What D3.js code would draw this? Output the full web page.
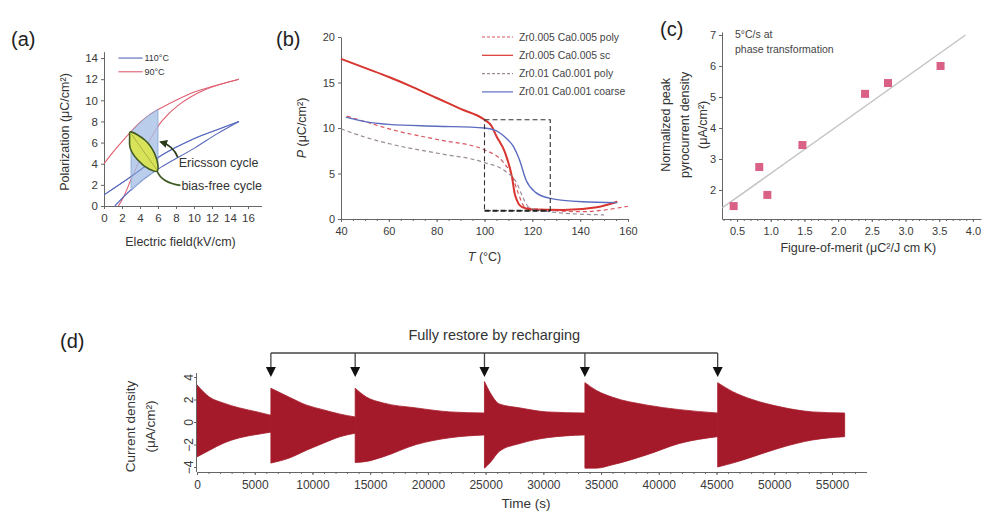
<!DOCTYPE html>
<html><head><meta charset="utf-8">
<script src="https://cdn.jsdelivr.net/npm/d3@7"></script>
<style>
body{margin:0;background:#fff;}
svg{display:block;font-family:"Liberation Sans",Arial,sans-serif;}
.ax path,.ax line{stroke:#666;stroke-width:1;}
.ax text{fill:#3a3a3a;}
</style></head><body>
<svg id="fig" width="985" height="520"></svg>
<script>
// ---------- (a) polarization loops ----------
const fieldTicks = [0,2,4,6,8,10,12,14,16];
const polTicks = [0,2,4,6,8,10,12,14];
const loop90Upper = [[0,4.0],[1,5.1],[2,6.1],[2.9,6.95],[4,7.9],[5,8.6],[6.4,9.3],[8,10.0],[10.1,10.8],[12,11.3],[15,12.0]];
const loop90Lower = [[1.6,0],[2.2,0.9],[3,2.5],[4,4.4],[5,6.1],[6.4,8.0],[8.2,9.5],[11.2,11.0],[15,12.0]];
const loop110Upper = [[0,1.05],[2.7,2.6],[6.4,4.8],[10.1,6.4],[12.5,7.2],[15,8.0]];
const loop110Lower = [[1.2,0],[2.7,1.3],[4.5,2.6],[6.4,3.7],[10.1,5.5],[12.5,6.8],[15,8.0]];
const ericssonCycle = [[3,1.45],[3,7.0],[4,7.9],[5,8.6],[6,9.15],[6,3.5],[4.5,2.6]];
const biasFreeCycle = [[2.9,7.0],[4.6,6.2],[5.6,5.0],[6.0,3.8],[5.9,3.3],[5.0,3.5],[3.7,4.4],[2.9,5.5],[2.85,6.5]];

// ---------- (b) P(T) curves ----------
const tempTicks = [40,60,80,100,120,140,160];
const pTicks = [0,5,10,15,20];
const seriesB = [
  {name:"Zr0.005 Ca0.005 poly", color:"#d9555f", dash:"4,3", pts:[[42.5,11.3],[50,10.7],[63,9.7],[81,8.7],[100,7.6],[108,6.2],[111.5,4.8],[114,2.9],[117,1.3],[126,1.0],[140,0.8],[160,1.4]]},
  {name:"Zr0.005 Ca0.005 sc", color:"#d8352f", dash:null, pts:[[40,17.6],[50,16.6],[60,15.6],[70,14.5],[80,13.3],[90,12.1],[100,10.9],[103,10.2],[105,9.1],[108.6,7.3],[111.5,4.6],[112.8,2.6],[115.7,1.3],[120,1.05],[133,1.0],[147,1.3],[155.5,1.9]]},
  {name:"Zr0.01 Ca0.001 poly", color:"#9a8c98", dash:"4,3", pts:[[40,9.9],[50,9.0],[63,8.1],[81,7.2],[100,6.2],[109,5.2],[113.6,3.9],[116,2.4],[119,1.2],[133,0.65],[150,0.45]]},
  {name:"Zr0.01 Ca0.001 coarse", color:"#5b6cc0", dash:null, pts:[[42,11.2],[50,10.7],[60,10.4],[80,10.2],[100,10.0],[104,9.8],[109,8.9],[112,8.0],[114.5,6.6],[117.5,4.2],[121.5,2.9],[127,2.3],[141,1.9],[155.5,1.8]]}
];
const transitionBox = {t0:100, t1:127.5, p0:0.9, p1:10.9};

// ---------- (c) pyrocurrent vs figure-of-merit ----------
const fomTicks = [0.5,1.0,1.5,2.0,2.5,3.0,3.5,4.0];
const pyroTicks = [2,3,4,5,6,7];
const fom = [0.45,0.83,0.95,1.47,2.40,2.74,3.52];
const pyro = [1.48,2.74,1.84,3.45,5.10,5.45,6.0];
const fitLine = [[0.28,1.42],[3.89,7.0]];

// ---------- (d) current density over time ----------
const timeTicks = [0,5000,10000,15000,20000,25000,30000,35000,40000,45000,50000,55000];
const currentTicks = [-4,-2,0,2,4];
const rechargeTimes = [6400,13700,24900,33600,45100];
// envelope of the oscillating current in each discharge run: [time, upper, lower]
const runs = [
  [[0,3.3,-3.1],[1100,2.2,-2.5],[2250,1.7,-1.9],[3700,1.25,-1.4],[5200,0.9,-1.1],[6400,0.6,-0.9]],
  [[6400,3.0,-3.65],[8000,2.2,-3.2],[9500,1.5,-2.5],[10900,1.1,-1.9],[12400,0.7,-1.3],[13700,0.45,-1.0]],
  [[13700,3.0,-3.6],[14700,2.2,-3.5],[16100,1.7,-3.1],[19000,1.25,-2.0],[21900,0.9,-1.4],[24900,0.8,-1.15]],
  [[24900,3.6,-4.1],[25400,2.6,-3.6],[26200,1.6,-2.6],[28000,1.25,-1.9],[30300,0.9,-1.4],[33600,0.8,-1.15]],
  [[33600,3.5,-4.1],[34600,2.8,-4.1],[36000,2.2,-3.8],[39000,1.5,-2.9],[41800,1.1,-1.9],[45100,0.8,-1.3]],
  [[45100,3.5,-4.0],[46400,2.7,-3.65],[48100,2.0,-3.1],[50500,1.35,-2.3],[53300,0.9,-1.6],[56100,0.8,-1.3]]
];

const svg = d3.select("#fig");
const txt = "#333";

svg.append("defs").append("marker").attr("id","arrowA").attr("viewBox","0 0 10 10")
  .attr("refX",8).attr("refY",5).attr("markerWidth",5).attr("markerHeight",5).attr("orient","auto")
  .append("path").attr("d","M0,0 L10,5 L0,10 z").attr("fill","#2a3a1a");

function panelLabel(x, y, s){
  svg.append("text").attr("x",x).attr("y",y).attr("font-size",20).attr("fill","#222").text(s);
}

// ===== Panel (a) =====
{
  const x = d3.scaleLinear([0,17.5],[104,261.5]);
  const y = d3.scaleLinear([0,14.6],[206,51.7]);
  const g = svg.append("g");
  g.append("g").attr("class","ax").attr("transform","translate(0,206)")
    .call(d3.axisBottom(x).tickValues(fieldTicks).tickSize(3).tickSizeOuter(0))
    .selectAll("text").attr("font-size",11.5).attr("dy","0.9em");
  g.append("g").attr("class","ax").attr("transform","translate(104,0)")
    .call(d3.axisLeft(y).tickValues(polTicks).tickSize(3).tickSizeOuter(0))
    .selectAll("text").attr("font-size",11.5);
  const line = d3.line().x(d=>x(d[0])).y(d=>y(d[1])).curve(d3.curveCatmullRom.alpha(0.5));
  [[loop90Upper,"#e06070"],[loop90Lower,"#e06070"],[loop110Upper,"#5668bd"],[loop110Lower,"#5668bd"]].forEach(([d,c])=>{
    g.append("path").datum(d).attr("d",line).attr("fill","none").attr("stroke",c).attr("stroke-width",1.1);
  });
  g.append("path").datum(ericssonCycle)
    .attr("d", d3.line().x(d=>x(d[0])).y(d=>y(d[1])).curve(d3.curveLinearClosed))
    .attr("fill","#a9c2e6").attr("fill-opacity",0.8).attr("stroke","#8aa6d6").attr("stroke-width",0.8);
  // blue loop stays visible across the shaded cycle
  g.append("path").datum(loop110Upper).attr("d",line).attr("fill","none").attr("stroke","#5668bd").attr("stroke-width",1).attr("stroke-opacity",0.7);
  g.append("path").datum(biasFreeCycle)
    .attr("d", d3.line().x(d=>x(d[0])).y(d=>y(d[1])).curve(d3.curveCatmullRomClosed.alpha(0.5)))
    .attr("fill","#d9e35a").attr("stroke","#3f5a22").attr("stroke-width",1.6);
  g.append("line").attr("x1",x(3.05)).attr("y1",y(6.8)).attr("x2",x(5.85)).attr("y2",y(3.45))
    .attr("stroke","#9aa83a").attr("stroke-width",0.8);
  // legend
  [["110°C","#5668bd",y(14)],["90°C","#e06070",y(12.7)]].forEach(([s,c,yy])=>{
    g.append("line").attr("x1",x(1.6)).attr("x2",x(4.3)).attr("y1",yy).attr("y2",yy).attr("stroke",c).attr("stroke-width",1.1);
    g.append("text").attr("x",x(4.5)).attr("y",yy+3).attr("font-size",9).attr("fill",txt).text(s);
  });
  // annotations
  g.append("text").attr("x",x(8.3)).attr("y",y(3.7)).attr("font-size",12.5).attr("fill",txt).text("Ericsson cycle");
  g.append("text").attr("x",x(8.6)).attr("y",y(1.55)).attr("font-size",12.5).attr("fill",txt).text("bias-free cycle");
  g.append("path")
    .attr("d",`M${x(8.2)},${y(4.6)} Q${x(7.7)},${y(5.7)} ${x(6.3)},${y(6.05)}`)
    .attr("fill","none").attr("stroke","#2a3a1a").attr("stroke-width",1.6).attr("marker-end","url(#arrowA)");
  g.append("path")
    .attr("d",`M${x(8.5)},${y(1.95)} Q${x(6.4)},${y(2.2)} ${x(5.9)},${y(3.3)}`)
    .attr("fill","none").attr("stroke","#3f5a22").attr("stroke-width",1.6);
  g.append("text").attr("transform",`translate(69,${y(7)}) rotate(-90)`).attr("text-anchor","middle")
    .attr("font-size",12.5).attr("fill",txt).text("Polarization (μC/cm²)");
  g.append("text").attr("x",x(8.5)).attr("y",246).attr("text-anchor","middle")
    .attr("font-size",12.5).attr("fill",txt).text("Electric field(kV/cm)");
  panelLabel(11,46,"(a)");
}

// ===== Panel (b) =====
{
  const x = d3.scaleLinear([40,160],[341,628]);
  const y = d3.scaleLinear([0,20],[219,37]);
  const g = svg.append("g");
  g.append("g").attr("class","ax").attr("transform","translate(0,219)")
    .call(d3.axisBottom(x).tickValues(tempTicks).tickSize(3).tickSizeOuter(0))
    .selectAll("text").attr("font-size",11).attr("dy","0.95em");
  g.append("g").attr("class","ax").attr("transform","translate(0,219)")
    .call(d3.axisBottom(x).tickValues(d3.range(45,160,5)).tickSize(2).tickFormat("").tickSizeOuter(0))
    .select("path").remove();
  g.append("g").attr("class","ax").attr("transform","translate(341,0)")
    .call(d3.axisLeft(y).tickValues(pTicks).tickSize(3).tickSizeOuter(0))
    .selectAll("text").attr("font-size",11);
  const line = d3.line().x(d=>x(d[0])).y(d=>y(d[1])).curve(d3.curveMonotoneX);
  seriesB.forEach(s=>{
    g.append("path").datum(s.pts).attr("d",line).attr("fill","none").attr("stroke",s.color)
      .attr("stroke-width", s.dash ? 1.2 : (s.color==="#d8352f"?2:1.4))
      .attr("stroke-dasharray", s.dash);
  });
  const b = transitionBox;
  g.append("rect").attr("x",x(b.t0)).attr("y",y(b.p1)).attr("width",x(b.t1)-x(b.t0)).attr("height",y(b.p0)-y(b.p1))
    .attr("fill","none").attr("stroke","#333").attr("stroke-width",1.1).attr("stroke-dasharray","5,3");
  g.append("line").attr("x1",x(b.t0)).attr("x2",x(b.t1)).attr("y1",y(b.p0)).attr("y2",y(b.p0))
    .attr("stroke","#222").attr("stroke-width",2).attr("stroke-dasharray","5,3");
  // legend
  seriesB.forEach((s,i)=>{
    const yy = 37 + i*18.3;
    g.append("line").attr("x1",482).attr("x2",513).attr("y1",yy).attr("y2",yy).attr("stroke",s.color)
      .attr("stroke-width",1.2).attr("stroke-dasharray", s.dash ? "3,2" : null);
    g.append("text").attr("x",519).attr("y",yy+3.5).attr("font-size",10.4).attr("fill","#444").text(s.name);
  });
  const yl = g.append("text").attr("transform",`translate(306,${y(10)}) rotate(-90)`).attr("text-anchor","middle")
    .attr("font-size",12.5).attr("fill",txt);
  yl.append("tspan").attr("font-style","italic").text("P");
  yl.append("tspan").text(" (μC/cm²)");
  const xl = g.append("text").attr("x",x(100)).attr("y",261).attr("text-anchor","middle").attr("font-size",12.5).attr("fill",txt);
  xl.append("tspan").attr("font-style","italic").text("T");
  xl.append("tspan").text(" (°C)");
  panelLabel(276,46,"(b)");
}

// ===== Panel (c) =====
{
  const x = d3.scaleLinear([0.28,4.12],[722.2,981]);
  const y = d3.scaleLinear([1.06,7.1],[219.1,31.9]);
  const g = svg.append("g");
  g.append("g").attr("class","ax").attr("transform","translate(0,219)")
    .call(d3.axisBottom(x).tickValues(fomTicks).tickFormat(d3.format(".1f")).tickSize(3).tickSizeOuter(0))
    .selectAll("text").attr("font-size",11).attr("dy","0.95em");
  g.append("g").attr("class","ax").attr("transform","translate(0,219)")
    .call(d3.axisBottom(x).tickValues(d3.range(0.3,4.1,0.1)).tickSize(2).tickFormat("").tickSizeOuter(0))
    .select("path").remove();
  g.append("g").attr("class","ax").attr("transform","translate(722,0)")
    .call(d3.axisLeft(y).tickValues(pyroTicks).tickFormat(d3.format("d")).tickSize(3).tickSizeOuter(0))
    .selectAll("text").attr("font-size",11);
  g.append("line").attr("x1",x(fitLine[0][0])).attr("y1",y(fitLine[0][1])).attr("x2",x(fitLine[1][0])).attr("y2",y(fitLine[1][1]))
    .attr("stroke","#c4c4c4").attr("stroke-width",1.5);
  g.selectAll("rect.pt").data(fom).join("rect").attr("class","pt")
    .attr("x",(d)=>x(d)-4).attr("y",(d,i)=>y(pyro[i])-4).attr("width",8).attr("height",8)
    .attr("fill","#d65079").attr("fill-opacity",0.9);
  g.append("text").attr("x",x(0.47)).attr("y",y(6.9)).attr("font-size",10.5).attr("fill","#444").text("5°C/s at");
  g.append("text").attr("x",x(0.47)).attr("y",y(6.42)).attr("font-size",10.5).attr("fill","#444").text("phase transformation");
  [["Normalized peak",670],["pyrocurrent density",689],["(μA/cm²)",707]].forEach(([s,xx])=>{
    g.append("text").attr("transform",`translate(${xx},${y(4.1)}) rotate(-90)`).attr("text-anchor","middle")
      .attr("font-size",12.5).attr("fill",txt).text(s);
  });
  g.append("text").attr("x",x(2.3)).attr("y",252).attr("text-anchor","middle").attr("font-size",12.5).attr("fill",txt)
    .text("Figure-of-merit (μC²/J cm K)");
  panelLabel(660,36,"(c)");
}

// ===== Panel (d) =====
{
  const x = d3.scaleLinear([0,58000],[197,866.6]);
  const y = d3.scaleLinear([-4.4,4.4],[471.5,372.5]);
  const g = svg.append("g");
  const area = d3.area().x(d=>x(d[0])).y0(d=>y(d[2])).y1(d=>y(d[1])).curve(d3.curveMonotoneX);
  runs.forEach(r=>{
    g.append("path").datum(r).attr("d",area).attr("fill","#a51a2a").attr("stroke","#a51a2a").attr("stroke-width",0.8);
  });
  g.append("g").attr("class","ax").attr("transform","translate(0,472)")
    .call(d3.axisBottom(x).tickValues(timeTicks).tickFormat(d3.format("d")).tickSize(3).tickSizeOuter(0))
    .selectAll("text").attr("font-size",12).attr("dy","0.95em");
  g.append("g").attr("class","ax").attr("transform","translate(0,472)")
    .call(d3.axisBottom(x).tickValues(d3.range(1000,58000,1000)).tickSize(2).tickFormat("").tickSizeOuter(0))
    .select("path").remove();
  const ya = g.append("g").attr("class","ax").attr("transform","translate(196,0)")
    .call(d3.axisLeft(y).tickValues(currentTicks).tickFormat(d3.format("d")).tickSize(2).tickSizeOuter(0));
  ya.selectAll("text").attr("font-size",12).attr("transform","rotate(-90)")
    .attr("x",0).attr("y",-3).attr("dy",0).attr("text-anchor","middle");
  // recharge markers
  const yBar = 353, yTip = 377;
  g.append("line").attr("x1",x(rechargeTimes[0])).attr("x2",x(rechargeTimes[rechargeTimes.length-1]))
    .attr("y1",yBar).attr("y2",yBar).attr("stroke","#444").attr("stroke-width",1.3);
  rechargeTimes.forEach(t=>{
    g.append("line").attr("x1",x(t)).attr("x2",x(t)).attr("y1",yBar).attr("y2",yTip-8).attr("stroke","#444").attr("stroke-width",1.3);
    g.append("path").attr("d",`M${x(t)-5},${yTip-10} L${x(t)+5},${yTip-10} L${x(t)},${yTip} Z`).attr("fill","#111");
  });
  g.append("text").attr("x",x((rechargeTimes[0]+rechargeTimes[4])/2)).attr("y",340).attr("text-anchor","middle")
    .attr("font-size",14.5).attr("fill",txt).text("Fully restore by recharging");
  [["Current density",135],["(μA/cm²)",155]].forEach(([s,xx])=>{
    g.append("text").attr("transform",`translate(${xx},${y(-0.4)}) rotate(-90)`).attr("text-anchor","middle")
      .attr("font-size",13.5).attr("fill",txt).text(s);
  });
  g.append("text").attr("x",x(28500)).attr("y",508).attr("text-anchor","middle").attr("font-size",13.5).attr("fill",txt).text("Time (s)");
  panelLabel(60,348,"(d)");
}
</script>
</body></html>
